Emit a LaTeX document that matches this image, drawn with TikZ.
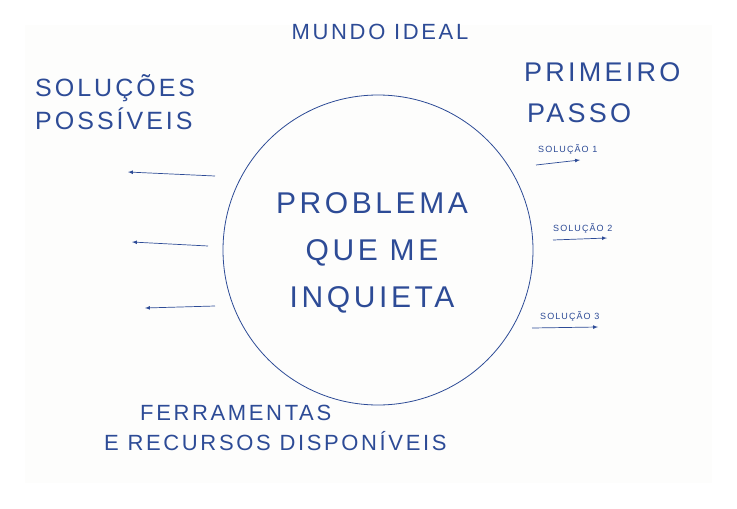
\documentclass[tikz,border=0pt]{standalone}
\usepackage{fontspec}
\setmainfont[LetterSpace=12]{Liberation Sans}
\usetikzlibrary{positioning}
\definecolor{ink}{RGB}{45,75,150}
\definecolor{paper}{RGB}{253,253,252}
\tikzset{
  hand/.style={text=ink, anchor=west, inner sep=0pt},
  arrowline/.style={draw=ink, -latex, line width=0.7pt}
}
\begin{document}
\begin{tikzpicture}[x=1pt, y=-1pt]
    \useasboundingbox (0,0) rectangle (737,509);
    % paper sheet
    \fill[paper] (25,25) rectangle (712,483);

    % central problem
    \draw[ink, line width=0.8pt] (378,250) circle (155);
    \node[text=ink, font=\fontsize{30}{47}\selectfont, align=center] (problem) at (372,253)
        {PROBLEMA\\QUE ME\\INQUIETA};

    % labels around the circle
    \node[text=ink, font=\fontsize{22}{26}\selectfont] (ideal) at (380,32) {MUNDO IDEAL};
    \node[hand, font=\fontsize{25}{30}\selectfont] (solucoes) at (35,88) {SOLUÇÕES};
    \node[hand, font=\fontsize{25}{30}\selectfont] (possiveis) at (35,119) {POSSÍVEIS};
    \node[hand, font=\fontsize{27}{32}\selectfont] (primeiro) at (524,72) {PRIMEIRO};
    \node[hand, font=\fontsize{27}{32}\selectfont] (passo) at (527,113) {PASSO};
    \node[hand, font=\fontsize{22}{26}\selectfont] (ferramentas) at (140,413) {FERRAMENTAS};
    \node[hand, font=\fontsize{22}{26}\selectfont] (recursos) at (104,441) {E RECURSOS DISPONÍVEIS};

    % possible solutions (left)
    \coordinate (l1s) at (215,176); \coordinate (l1e) at (128,172);
    \coordinate (l2s) at (208,246); \coordinate (l2e) at (132,242);
    \coordinate (l3s) at (215,306); \coordinate (l3e) at (145,308);
    \draw[arrowline] (l1s) -- (l1e);
    \draw[arrowline] (l2s) -- (l2e);
    \draw[arrowline] (l3s) -- (l3e);

    % first steps (right)
    \node[hand, font=\fontsize{9}{11}\selectfont] (sol1) at (538,150) {SOLUÇÃO 1};
    \node[hand, font=\fontsize{9}{11}\selectfont] (sol2) at (553,228) {SOLUÇÃO 2};
    \node[hand, font=\fontsize{9}{11}\selectfont] (sol3) at (540,316) {SOLUÇÃO 3};
    \coordinate (r1s) at (536,165); \coordinate (r1e) at (580,160);
    \coordinate (r2s) at (553,240); \coordinate (r2e) at (607,238);
    \coordinate (r3s) at (532,328); \coordinate (r3e) at (598,327);
    \draw[arrowline] (r1s) -- (r1e);
    \draw[arrowline] (r2s) -- (r2e);
    \draw[arrowline] (r3s) -- (r3e);
\end{tikzpicture}
\end{document}
